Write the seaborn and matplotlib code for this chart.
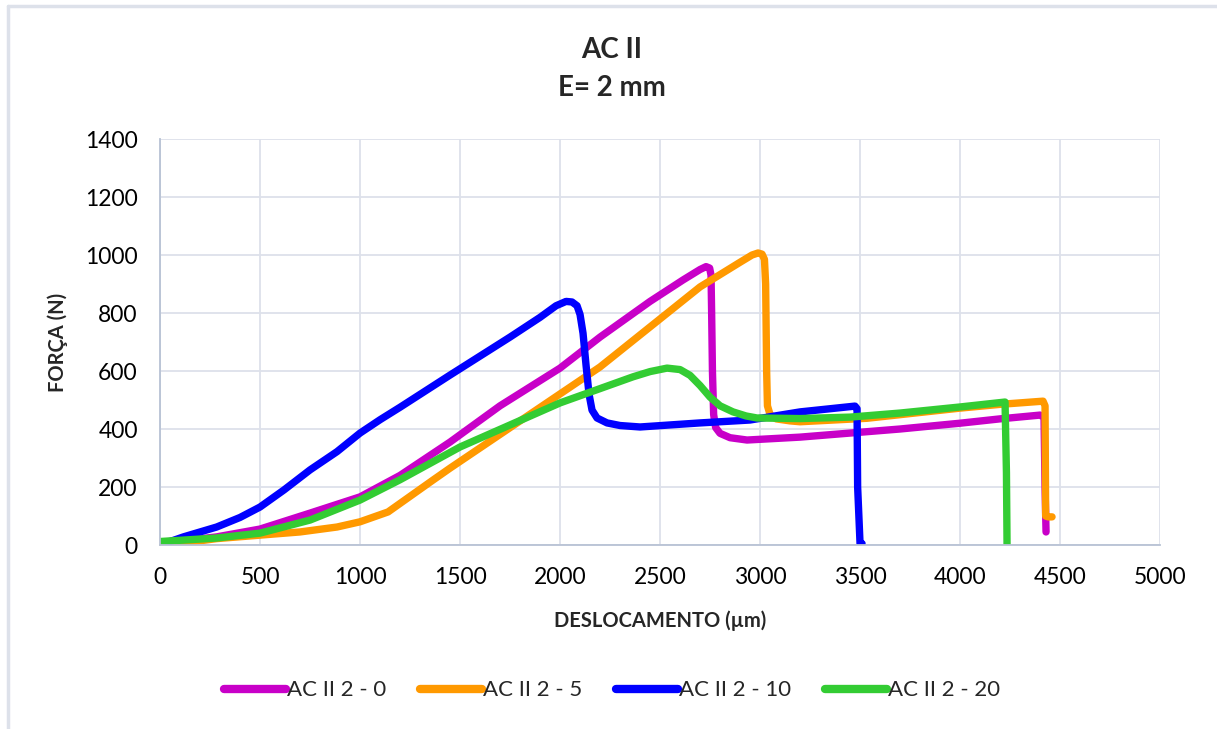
import numpy as np
import pandas as pd
import matplotlib
matplotlib.use("Agg")
import matplotlib.pyplot as plt
import seaborn as sns
from matplotlib.lines import Line2D

# series names and colours
names = ["AC II 2 - 0", "AC II 2 - 5", "AC II 2 - 10", "AC II 2 - 20"]
colors = ["#c800c8", "#ff9900", "#0000ff", "#33cc33"]

# AC II 2 - 0 (magenta)
x0 = [0, 120, 283, 500, 750, 1000, 1200, 1450, 1700, 2000, 2200, 2450, 2615,
      2700, 2730, 2748, 2755, 2758, 2762, 2768, 2778, 2800, 2850, 2935, 3200,
      3450, 3700, 4000, 4200, 4400, 4420, 4425, 4430]
y0 = [10, 15, 28, 55, 110, 166, 240, 355, 480, 610, 717, 840, 914,
      950, 960, 955, 930, 800, 600, 450, 405, 385, 370, 362, 372,
      386, 400, 420, 435, 448, 440, 200, 45]

# AC II 2 - 5 (orange)
x5 = [0, 150, 283, 500, 700, 885, 1000, 1140, 1365, 1450, 2200, 2700, 2900,
      2960, 2990, 3010, 3022, 3028, 3033, 3037, 3050, 3080, 3150, 3200, 3535,
      4000, 4200, 4415, 4425, 4428, 4440, 4460]
y5 = [0, 10, 22, 34, 45, 62, 80, 114, 224, 265, 614, 890, 975,
      1000, 1007, 1003, 985, 900, 600, 480, 450, 435, 428, 425, 437,
      472, 485, 496, 480, 100, 97, 97]

# AC II 2 - 10 (blue)
x10 = [0, 117, 283, 400, 500, 620, 750, 885, 1000, 1100, 1200, 1450, 1750,
       1900, 1980, 2030, 2060, 2085, 2100, 2115, 2130, 2145, 2160, 2185, 2235,
       2300, 2400, 2700, 2950, 3200, 3475, 3485, 3488, 3500, 3510]
y10 = [0, 28, 62, 95, 131, 190, 259, 322, 386, 432, 475, 586, 717,
       785, 825, 840, 838, 825, 795, 730, 620, 520, 465, 438, 421,
       412, 407, 421, 431, 459, 479, 470, 200, 5, 5]

# AC II 2 - 20 (green)
x20 = [0, 283, 500, 750, 1000, 1200, 1500, 2000, 2365, 2450, 2535, 2600, 2650,
       2700, 2750, 2800, 2865, 2930, 2985, 3200, 3450, 3700, 4000, 4225, 4232,
       4235]
y20 = [12, 24, 41, 86, 155, 225, 338, 490, 580, 598, 610, 605, 585,
       550, 510, 480, 459, 445, 438, 436, 441, 455, 476, 493, 250,
       3]

xticks = [0, 500, 1000, 1500, 2000, 2500, 3000, 3500, 4000, 4500, 5000]
yticks = [0, 200, 400, 600, 800, 1000, 1200, 1400]

frames = []
for name, xs, ys in zip(names, [x0, x5, x10, x20], [y0, y5, y10, y20]):
    frames.append(pd.DataFrame({"x": xs, "y": ys, "serie": name}))
df = pd.concat(frames, ignore_index=True)

sns.set_theme(style="whitegrid")
plt.rcParams["font.family"] = ["Lato", "DejaVu Sans"]

fig = plt.figure(figsize=(12.17, 7.29), dpi=100)
ax = fig.add_axes([0.1315, 0.2524, 0.8217, 0.5569])

sns.lineplot(data=df, x="x", y="y", hue="serie", hue_order=names,
             palette=colors, sort=False, estimator=None, linewidth=5.3,
             legend=False, ax=ax)
for l in ax.get_lines():
    l.set_solid_capstyle("round")
    l.set_solid_joinstyle("round")

ax.set_xlim(0, 5000)
ax.set_ylim(0, 1400)
ax.set_xticks(xticks)
ax.set_yticks(yticks)
ax.grid(True, color="#dde1ea", linewidth=1.3)
ax.set_axisbelow(True)
for s in ["top", "right"]:
    ax.spines[s].set_visible(False)
for s in ["left", "bottom"]:
    ax.spines[s].set_visible(True)
    ax.spines[s].set_color("#b8c2d4")
    ax.spines[s].set_linewidth(1.3)
ax.tick_params(axis="both", length=0, labelsize=16.5, colors="black", pad=16)

ax.set_xlabel("DESLOCAMENTO (µm)", fontsize=14.5, fontweight="bold", labelpad=16)
ax.set_ylabel("FORÇA (N)", fontsize=14.5, fontweight="bold", labelpad=12)

fig.text(0.503, 0.932, "AC II", ha="center", va="center", fontsize=20, fontweight="bold")
fig.text(0.503, 0.879, "E= 2 mm", ha="center", va="center", fontsize=20, fontweight="bold")

handles = [Line2D([], [], color=c, linewidth=6, solid_capstyle="round") for c in colors]
fig.legend(handles, names, loc="center", bbox_to_anchor=(0.503, 0.053), ncol=4,
           frameon=False, fontsize=16, handlelength=2.8, handletextpad=0.05,
           columnspacing=1.5)

# chart frame (left and top edges visible)
fig.add_artist(Line2D([0.0065, 0.0065], [0.0, 0.9918], color="#dde1ea", linewidth=2.5,
                      transform=fig.transFigure))
fig.add_artist(Line2D([0.0065, 1.0], [0.9918, 0.9918], color="#dde1ea", linewidth=2.5,
                      transform=fig.transFigure))

fig.savefig("out.png", dpi=100)
